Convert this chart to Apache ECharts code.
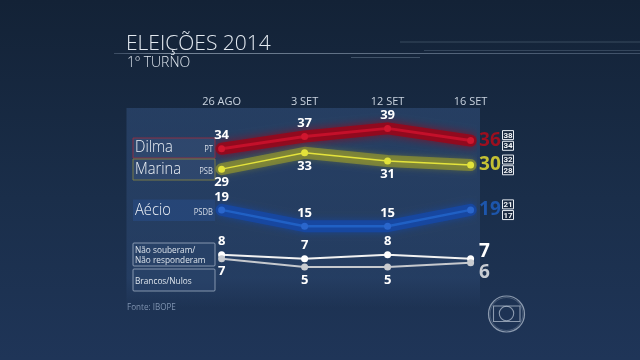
<!DOCTYPE html>
<html><head><meta charset="utf-8">
<script src="https://cdn.jsdelivr.net/npm/echarts@6/dist/echarts.min.js"></script>
<style>html,body{margin:0;padding:0;background:#172a43;}#c{width:640px;height:360px;}</style>
</head><body><div id="c"></div>
<script>
// ---- data ----
const categories = ['26 AGO', '3 SET', '12 SET', '16 SET'];
const dilma = [34, 37, 39, 36];
const marina = [29, 33, 31, 30];
const aecio = [19, 15, 15, 19];
const naoSouberam = [8, 7, 8, 7];
const brancosNulos = [7, 5, 5, 6];
const dilmaRange = [38, 34];
const marinaRange = [32, 28];
const aecioRange = [21, 17];
const candidateNames = ['Dilma', 'Marina', 'Aécio'];
const partyNames = ['PT', 'PSB', 'PSDB'];
const otherNames = ['Não souberam/\nNão responderam', 'Brancos/Nulos'];
const titleText = 'ELEIÇÕES 2014';
const subtitleText = '1º TURNO';
const sourceText = 'Fonte: IBOPE';

const FONT = 'Open Sans';
const chart = echarts.init(document.getElementById('c'), null, {renderer: 'canvas'});

function glow(data, color, width, blur) {
  return {
    type: 'line', data: data, symbol: 'none', silent: true, z: 2,
    lineStyle: {color: color, width: width, cap: 'round', join: 'round', shadowBlur: blur, shadowColor: color}
  };
}
function mainLine(data, lineColor, lineWidth, dotColor, dotSize, pos, endColor, endSize, endDy) {
  return {
    type: 'line', data: data, symbol: 'circle', symbolSize: dotSize, z: 4,
    itemStyle: {color: dotColor},
    lineStyle: {color: lineColor, width: lineWidth},
    label: {
      show: true, position: pos, distance: 3, color: '#ffffff', fontFamily: FONT,
      fontWeight: 'bold', fontSize: 13,
      formatter: p => p.dataIndex === data.length - 1 ? '{e|' + p.value + '}' : String(p.value),
      rich: {e: {color: endColor, fontSize: endSize, fontWeight: 'bold', fontFamily: FONT}}
    },
    labelLayout: function (p) {
      if (p.dataIndex === data.length - 1) {
        return {x: p.rect.x + p.rect.width + 5, y: p.rect.y + p.rect.height / 2 + endDy,
                align: 'left', verticalAlign: 'middle'};
      }
      return {};
    }
  };
}

const option = {
  animation: false,
  backgroundColor: new echarts.graphic.LinearGradient(0, 0, 0, 1, [
    {offset: 0, color: '#132236'}, {offset: 0.55, color: '#1a2e4a'}, {offset: 1, color: '#1f3558'}
  ]),
  grid: {left: 221.6, right: 169.4, top: 108, bottom: 72.7},
  xAxis: {
    type: 'category', data: categories, position: 'top', boundaryGap: false,
    axisLine: {show: false}, axisTick: {show: false}, splitLine: {show: false},
    axisLabel: {color: '#c9d3df', fontFamily: FONT, fontSize: 11, margin: 1}
  },
  yAxis: {type: 'value', min: 0, max: 44, show: false},
  series: [
    glow(dilma, 'rgba(150,8,28,0.9)', 12, 8),
    glow(marina, 'rgba(160,160,40,0.6)', 12, 6),
    glow(aecio, 'rgba(22,72,165,0.85)', 12, 7),
    mainLine(dilma, '#c4102a', 3, '#cf162e', 7, 'top', '#9c0f1f', 19, 0),
    mainLine(marina, '#e4e33c', 1.5, '#e2e23a', 7, 'bottom', '#c4c034', 19, 0),
    mainLine(aecio, '#2060c4', 2.5, '#2a66cc', 7, 'top', '#1d56ac', 19, 0),
    mainLine(naoSouberam, '#f2f2f2', 2, '#ffffff', 7, 'top', '#ffffff', 19, -7),
    mainLine(brancosNulos, '#c6c9ce', 2, '#c8cbd0', 7, 'bottom', '#c8ccd2', 19, 10)
  ]
};
chart.setOption(option);

// ---- decorations, legend boxes and annotations ----
const els = [];
// panel
els.push({type: 'rect', z: -10, shape: {x: 126.5, y: 108, width: 353.5, height: 200},
  style: {fill: new echarts.graphic.LinearGradient(0, 0, 0, 1, [
    {offset: 0, color: 'rgba(50,80,125,0.55)'}, {offset: 0.85, color: 'rgba(50,80,125,0.38)'},
    {offset: 1, color: 'rgba(50,80,125,0.0)'}])}});
// title lines
els.push({type: 'line', z: -5, shape: {x1: 114, y1: 53.5, x2: 640, y2: 53.5},
  style: {stroke: new echarts.graphic.LinearGradient(0, 0, 1, 0, [
    {offset: 0, color: 'rgba(160,180,205,0.25)'}, {offset: 0.1, color: 'rgba(200,215,230,0.55)'},
    {offset: 1, color: 'rgba(160,180,205,0.3)'}]), lineWidth: 1}});
els.push({type: 'line', z: -5, shape: {x1: 400, y1: 42, x2: 640, y2: 42}, style: {stroke: 'rgba(170,190,210,0.25)', lineWidth: 1}});
els.push({type: 'line', z: -5, shape: {x1: 424, y1: 50.5, x2: 640, y2: 50.5}, style: {stroke: 'rgba(170,190,210,0.22)', lineWidth: 1}});
els.push({type: 'line', z: -5, shape: {x1: 351, y1: 57.5, x2: 420, y2: 57.5}, style: {stroke: 'rgba(170,190,210,0.3)', lineWidth: 1}});
// titles
els.push({type: 'text', x: 126, y: 34, style: {text: titleText, fill: '#e4eaf1', font: '300 21px "Open Sans"'}, scaleX: 1.0});
els.push({type: 'text', x: 127, y: 56, style: {text: subtitleText, fill: '#dfe6ee', font: '300 14px "Open Sans"'}, scaleX: 1.0});
els.push({type: 'text', x: 127, y: 303, style: {text: sourceText, fill: '#7f93b0', font: '9px "Open Sans"'}, scaleX: 0.9});

// candidate legend boxes
const boxSpecs = [
  {y: 138, h: 20, stroke: 'rgba(150,45,65,0.9)', fill: 'rgba(55,80,120,0.5)'},
  {y: 159, h: 21, stroke: 'rgba(125,125,70,0.95)', fill: 'rgba(55,80,120,0.5)'},
  {y: 199.5, h: 21.5, stroke: null, fill: 'rgba(40,78,140,0.5)'}
];
candidateNames.forEach((n, i) => {
  const b = boxSpecs[i];
  els.push({type: 'rect', z: -2, shape: {x: 133, y: b.y, width: 82, height: b.h},
    style: {fill: b.fill, stroke: b.stroke, lineWidth: b.stroke ? 1 : 0}});
  els.push({type: 'text', x: 135, y: b.y + b.h / 2, style: {text: n, fill: '#eef2f7',
    font: '300 15.5px "Open Sans"', verticalAlign: 'middle'}, scaleX: 0.95});
  els.push({type: 'text', x: 213, y: b.y + b.h / 2 + 2, style: {text: partyNames[i], fill: '#d5dce6',
    font: '8.5px "Open Sans"', align: 'right', verticalAlign: 'middle'}, scaleX: 0.9});
});
// other legend boxes
[[243, 23], [269, 22]].forEach((b, i) => {
  els.push({type: 'rect', z: -2, shape: {x: 133, y: b[0], width: 82, height: b[1], r: 1},
    style: {fill: 'rgba(45,70,110,0.45)', stroke: 'rgba(165,180,200,0.75)', lineWidth: 1}});
  els.push({type: 'text', x: 135, y: i === 0 ? b[0] + 2 : b[0] + 12, style: {text: otherNames[i], fill: '#dde4ec',
    font: '9px "Open Sans"', lineHeight: 10, verticalAlign: i === 0 ? 'top' : 'middle'}, scaleX: 0.92});
});

// margin-of-error boxes, placed from the last data point through the axes
[[3, dilma, dilmaRange], [4, marina, marinaRange], [5, aecio, aecioRange]].forEach(a => {
  const last = a[1].length - 1;
  const p = chart.convertToPixel({seriesIndex: a[0]}, [last, a[1][last]]);
  [[a[2][0], -5.5], [a[2][1], 5.2]].forEach(r => {
    els.push({type: 'rect', shape: {x: 502.5, y: p[1] + r[1] - 4.5, width: 11, height: 9},
      style: {fill: 'rgba(25,40,62,0.9)', stroke: '#e8edf3', lineWidth: 1}});
    els.push({type: 'text', x: 508, y: p[1] + r[1] + 0.5, style: {text: String(r[0]), fill: '#f2f5f8',
      font: 'bold 8px Roboto', align: 'center', verticalAlign: 'middle'}});
  });
});

// Globo logo
els.push({type: 'circle', shape: {cx: 506.5, cy: 314, r: 18}, style: {fill: 'none', stroke: 'rgba(200,210,225,0.65)', lineWidth: 1.2}});
els.push({type: 'circle', shape: {cx: 506.5, cy: 314, r: 16.5}, style: {fill: 'none', stroke: 'rgba(200,210,225,0.25)', lineWidth: 1}});
els.push({type: 'rect', shape: {x: 493.5, y: 306, width: 26.5, height: 15.5}, style: {fill: 'none', stroke: 'rgba(200,210,225,0.65)', lineWidth: 1.1}});
els.push({type: 'circle', shape: {cx: 506.5, cy: 313.5, r: 7.2}, style: {fill: 'none', stroke: 'rgba(200,210,225,0.65)', lineWidth: 1.1}});

chart.setOption({graphic: {elements: els}});
</script></body></html>
